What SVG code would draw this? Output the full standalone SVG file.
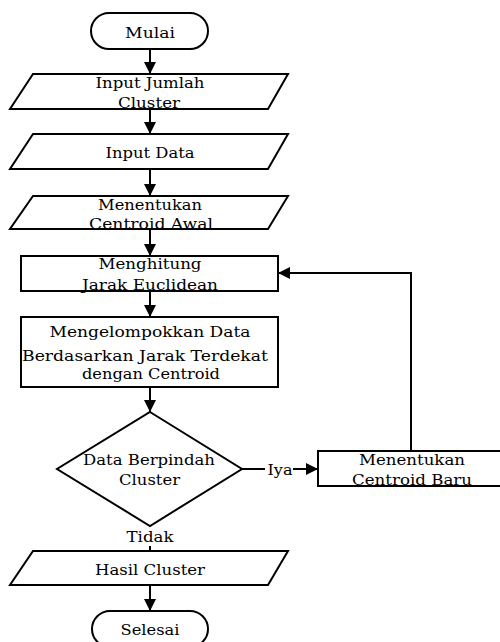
<svg xmlns="http://www.w3.org/2000/svg" width="500" height="642" viewBox="0 0 500 642">
<style>
  .shape { fill: #ffffff; stroke: #000000; stroke-width: 2; }
  .line { fill: none; stroke: #000000; stroke-width: 2; }
  .t { font-family: 'DejaVu Serif', 'Liberation Serif', serif; font-size: 15px; fill: #000000; text-anchor: middle; }
</style>
<defs>
  <marker id="arrow" markerUnits="userSpaceOnUse" markerWidth="12" markerHeight="12" refX="12" refY="6" orient="auto">
    <path d="M0,0 L12,6 L0,12 z" fill="#000000"/>
  </marker>
</defs>
<rect width="500" height="642" fill="#ffffff"/>

<g id="connectors">
  <line class="line" x1="150" y1="49" x2="150" y2="74" marker-end="url(#arrow)"/>
  <line class="line" x1="150" y1="109" x2="150" y2="134" marker-end="url(#arrow)"/>
  <line class="line" x1="150" y1="169" x2="150" y2="196" marker-end="url(#arrow)"/>
  <line class="line" x1="150" y1="229" x2="150" y2="256" marker-end="url(#arrow)"/>
  <line class="line" x1="150" y1="291" x2="150" y2="317" marker-end="url(#arrow)"/>
  <line class="line" x1="150" y1="387" x2="150" y2="412" marker-end="url(#arrow)"/>
  <line class="line" x1="242" y1="469" x2="265" y2="469"/>
  <line class="line" x1="293" y1="469" x2="318" y2="469" marker-end="url(#arrow)"/>
  <polyline class="line" points="411,451 411,273 278,273" marker-end="url(#arrow)"/>
  <line class="line" x1="150" y1="546" x2="150" y2="551"/>
  <line class="line" x1="150" y1="585" x2="150" y2="611" marker-end="url(#arrow)"/>
  <text class="t" x="280" y="475" textLength="25" lengthAdjust="spacingAndGlyphs">Iya</text>
  <text class="t" x="150" y="542" textLength="47" lengthAdjust="spacingAndGlyphs">Tidak</text>
</g>

<g id="mulai">
  <rect class="shape" x="91" y="13" width="117" height="36" rx="18" ry="18"/>
  <text class="t" x="150" y="37.5" textLength="50" lengthAdjust="spacingAndGlyphs">Mulai</text>
</g>

<g id="input-jumlah-cluster">
  <polygon class="shape" points="33,74 288,74 268,109 10,109"/>
  <text class="t" x="150" y="87.5" textLength="109" lengthAdjust="spacingAndGlyphs">Input Jumlah</text>
  <text class="t" x="149" y="107.5" textLength="62" lengthAdjust="spacingAndGlyphs">Cluster</text>
</g>

<g id="input-data">
  <polygon class="shape" points="33,134 288,134 268,169 10,169"/>
  <text class="t" x="150" y="157.5" textLength="89" lengthAdjust="spacingAndGlyphs">Input Data</text>
</g>

<g id="centroid-awal">
  <polygon class="shape" points="33,196 288,196 268,229 10,229"/>
  <text class="t" x="150" y="210" textLength="104" lengthAdjust="spacingAndGlyphs">Menentukan</text>
  <text class="t" x="151" y="229" textLength="124" lengthAdjust="spacingAndGlyphs">Centroid Awal</text>
</g>

<g id="menghitung-jarak">
  <rect class="shape" x="21" y="256" width="257" height="35"/>
  <text class="t" x="150" y="268.5" textLength="103" lengthAdjust="spacingAndGlyphs">Menghitung</text>
  <text class="t" x="150" y="289.5" textLength="136" lengthAdjust="spacingAndGlyphs">Jarak Euclidean</text>
</g>

<g id="mengelompokkan">
  <rect class="shape" x="21" y="317" width="257" height="70"/>
  <text class="t" x="150" y="337" textLength="201" lengthAdjust="spacingAndGlyphs">Mengelompokkan Data</text>
  <text class="t" x="145" y="360.5" textLength="246" lengthAdjust="spacingAndGlyphs">Berdasarkan Jarak Terdekat</text>
  <text class="t" x="151" y="378.5" textLength="138" lengthAdjust="spacingAndGlyphs">dengan Centroid</text>
</g>

<g id="keputusan">
  <polygon class="shape" points="150,412 242,469 150,526 57,469"/>
  <text class="t" x="149" y="465" textLength="132" lengthAdjust="spacingAndGlyphs">Data Berpindah</text>
  <text class="t" x="149.5" y="485" textLength="61" lengthAdjust="spacingAndGlyphs">Cluster</text>
</g>

<g id="centroid-baru">
  <rect class="shape" x="318" y="451" width="188" height="35"/>
  <text class="t" x="412" y="464.5" textLength="106" lengthAdjust="spacingAndGlyphs">Menentukan</text>
  <text class="t" x="412" y="484.5" textLength="120" lengthAdjust="spacingAndGlyphs">Centroid Baru</text>
</g>

<g id="hasil-cluster">
  <polygon class="shape" points="33,551 288,551 268,585 10,585"/>
  <text class="t" x="150" y="574.5" textLength="110" lengthAdjust="spacingAndGlyphs">Hasil Cluster</text>
</g>

<g id="selesai">
  <rect class="shape" x="92" y="611" width="116" height="36" rx="18" ry="18"/>
  <text class="t" x="150" y="635" textLength="59" lengthAdjust="spacingAndGlyphs">Selesai</text>
</g>
</svg>
